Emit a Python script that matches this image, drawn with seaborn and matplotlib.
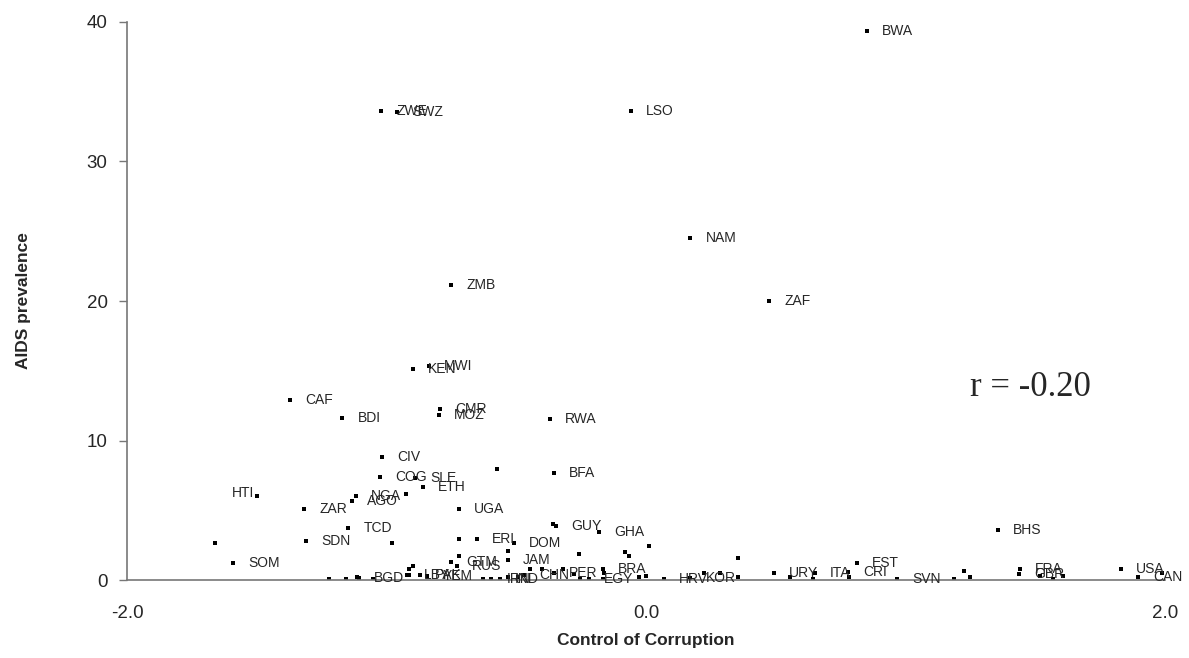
import pandas as pd
import numpy as np
import seaborn as sns
import matplotlib
matplotlib.use("Agg")
import matplotlib.pyplot as plt

# Control of Corruption index vs AIDS prevalence, one point per country
corruption = [0.852, -1.021, -0.960, -0.058, 0.170, -0.751, 0.474, -0.836, -0.898, -1.372,
              -1.171, -0.794, -0.798, -0.370, -1.017, -0.574, -0.355, -1.025, -0.890, -0.859,
              -1.499, -1.118, -1.133, -0.925, -1.318, -0.721, -1.148, -1.310, -0.979, -1.661,
              -1.592, -0.358, -0.347, -0.181, -0.721, -0.651, -0.509, -0.532, -0.721, -0.751,
              -0.728, -0.532, -0.258, -0.081, -0.066, 0.012, 1.356, -1.222, -1.156, -1.114,
              -1.106, -1.052, -0.921, -0.913, -0.913, -0.898, -0.871, -0.844, -0.628, -0.597,
              -0.563, -0.532, -0.493, -0.470, -0.447, -0.401, -0.355, -0.320, -0.277, -0.254,
              -0.220, -0.166, -0.162, -0.166, -0.027, 0.000, 0.069, 0.170, 0.224, 0.285,
              0.355, 0.355, 0.493, 0.555, 0.644, 0.651, 0.778, 0.782, 0.813, 0.967,
              1.187, 1.225, 1.249, 1.441, 1.437, 1.518, 1.568, 1.607, 1.830, 1.896,
              1.988]
aids = [39.35, 33.62, 33.55, 33.62, 24.52, 21.15, 20.00, 15.34, 15.13, 12.90,
        11.61, 12.26, 11.83, 11.54, 8.82, 7.96, 7.67, 7.38, 7.31, 6.67,
        6.02, 6.02, 5.66, 6.16, 5.09, 5.09, 3.73, 2.80, 2.65, 2.65,
        1.22, 4.01, 3.87, 3.44, 2.94, 2.94, 2.65, 2.08, 1.72, 1.29,
        1.00, 1.43, 1.86, 2.01, 1.72, 2.44, 3.58, 0.07, 0.07, 0.21,
        0.14, 0.07, 0.36, 0.36, 0.79, 1.00, 0.36, 0.29, 0.07, 0.07,
        0.07, 0.21, 0.21, 0.36, 0.79, 0.79, 0.50, 0.79, 0.43, 0.07,
        0.07, 0.79, 0.50, 0.07, 0.21, 0.29, 0.07, 0.14, 0.50, 0.50,
        1.58, 0.21, 0.50, 0.21, 0.07, 0.50, 0.57, 0.21, 1.22, 0.07,
        0.07, 0.65, 0.21, 0.79, 0.43, 0.29, 0.07, 0.29, 0.79, 0.21,
        0.50]
labels = ["BWA", "ZWE", "SWZ", "LSO", "NAM", "ZMB", "ZAF", "MWI", "KEN", "CAF",
          "BDI", "CMR", "MOZ", "RWA", "CIV", "", "BFA", "COG", "SLE", "ETH",
          "HTI", "NGA", "AGO", "", "ZAR", "UGA", "TCD", "SDN", "", "",
          "SOM", "", "GUY", "GHA", "", "ERI", "DOM", "", "", "GTM",
          "RUS", "JAM", "", "", "", "", "BHS", "", "", "",
          "BGD", "", "", "LBY", "", "", "PAK", "YEM", "", "IRN",
          "IND", "", "", "CHN", "", "", "PER", "", "", "",
          "EGY", "BRA", "", "", "", "", "HRV", "KOR", "", "",
          "", "", "URY", "", "", "ITA", "CRI", "", "EST", "SVN",
          "", "", "", "FRA", "GBR", "", "", "", "USA", "CAN",
          ""]
left_labels = ["HTI"]
r_text = "r = -0.20"

df = pd.DataFrame({"corruption": corruption, "aids": aids, "label": labels})

sns.set_style("white")
plt.rcParams["font.family"] = ["Liberation Sans", "DejaVu Sans"]

fig = plt.figure(figsize=(11.89, 6.58), dpi=100)
ax = fig.add_axes([0.1068, 0.1185, 0.8730, 0.8481])

sns.scatterplot(data=df, x="corruption", y="aids", ax=ax, marker="s",
                s=8, color="black", edgecolor="none", linewidth=0)

for _, row in df.iterrows():
    if not row["label"]:
        continue
    if row["label"] in left_labels:
        ax.annotate(row["label"], (row["corruption"], row["aids"]),
                    xytext=(-2, 2), textcoords="offset points",
                    ha="right", va="center", fontsize=10)
    else:
        ax.annotate(row["label"], (row["corruption"], row["aids"]),
                    xytext=(11, 0), textcoords="offset points",
                    ha="left", va="center", fontsize=10)

ax.text(1.48, 13.8, r_text, family=["Liberation Serif", "DejaVu Serif"],
        fontsize=25, ha="center", va="center")

ax.set_xlim(-2, 2)
ax.set_ylim(0, 40)
ax.set_xticks([-2, 0, 2])
ax.set_xticklabels(["-2.0", "0.0", "2.0"])
ax.set_yticks([0, 10, 20, 30, 40])

for side in ["top", "right"]:
    ax.spines[side].set_visible(False)
for side in ["left", "bottom"]:
    ax.spines[side].set_color("#777777")
    ax.spines[side].set_linewidth(1.2)

ax.tick_params(axis="x", length=0, pad=18, labelsize=13.5)
ax.tick_params(axis="y", length=6, width=1, color="#777777", direction="out",
               pad=8, labelsize=13.5, left=True)

ax.set_xlabel("Control of Corruption", fontsize=12.5, fontweight="bold", labelpad=8)
ax.set_ylabel("AIDS prevalence", fontsize=12.5, fontweight="bold", labelpad=40)

plt.savefig("out.png", dpi=100)
